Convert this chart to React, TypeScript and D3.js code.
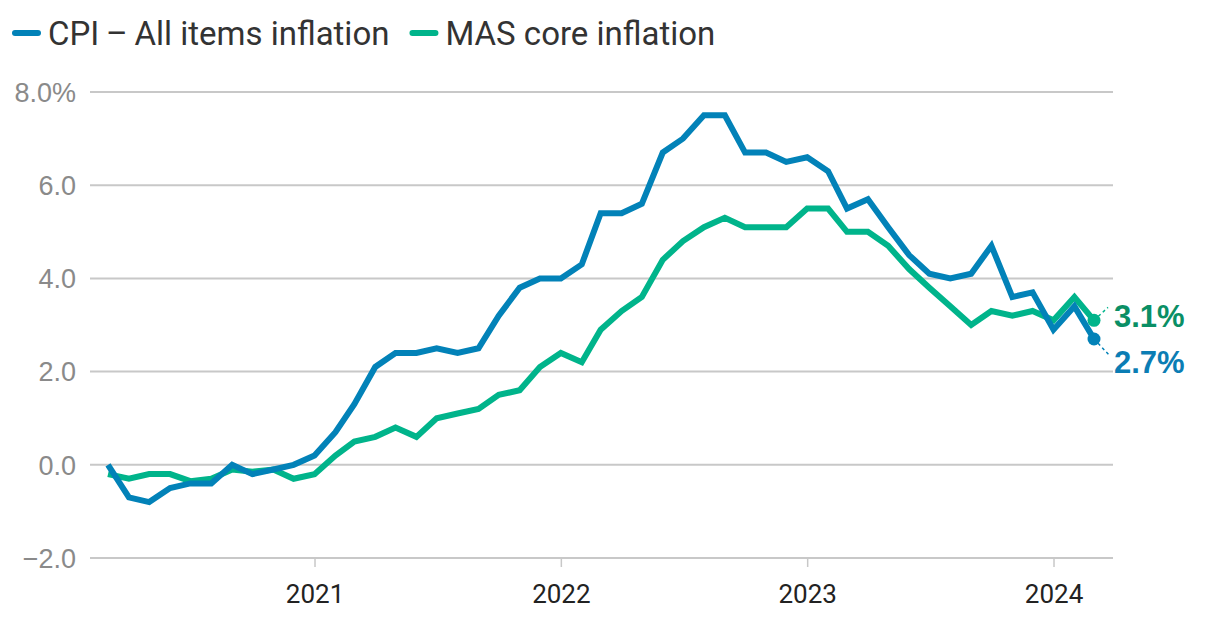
import { useRef, useEffect } from 'react';
import * as d3 from 'd3';

// Monthly y/y inflation, Mar 2020 .. Mar 2024
const firstMonth = new Date(Date.UTC(2020, 2, 1));
const cpiAll = [
  0.0, -0.7, -0.8, -0.5, -0.4, -0.4, 0.0, -0.2, -0.1, 0.0,
  0.2, 0.7, 1.3, 2.1, 2.4, 2.4, 2.5, 2.4, 2.5, 3.2, 3.8, 4.0,
  4.0, 4.3, 5.4, 5.4, 5.6, 6.7, 7.0, 7.5, 7.5, 6.7, 6.7, 6.5,
  6.6, 6.3, 5.5, 5.7, 5.1, 4.5, 4.1, 4.0, 4.1, 4.7, 3.6, 3.7,
  2.9, 3.4, 2.7,
];
const masCore = [
  -0.2, -0.3, -0.2, -0.2, -0.35, -0.3, -0.1, -0.15, -0.1, -0.3,
  -0.2, 0.2, 0.5, 0.6, 0.8, 0.6, 1.0, 1.1, 1.2, 1.5, 1.6, 2.1,
  2.4, 2.2, 2.9, 3.3, 3.6, 4.4, 4.8, 5.1, 5.3, 5.1, 5.1, 5.1,
  5.5, 5.5, 5.0, 5.0, 4.7, 4.2, 3.8, 3.4, 3.0, 3.3, 3.2, 3.3,
  3.1, 3.6, 3.1,
];
const yTicks = [-2, 0, 2, 4, 6, 8];
const xTickYears = [2021, 2022, 2023, 2024];
const seriesNames = ['CPI\u2009\u2013\u2009All items inflation', 'MAS core inflation'];
const seriesColors = ['#0282b8', '#00b48b'];
const endLabelColors = ['#0b7db4', '#0a8f65'];

const W = 1220;
const H = 622;

const App = () => {
  const svgRef = useRef<SVGSVGElement>(null);

  useEffect(() => {
    const svg = d3.select(svgRef.current);
    svg.selectAll('*').remove();

    const dates = cpiAll.map((_, i) => d3.utcMonth.offset(firstMonth, i));
    const x = d3.scaleUtc().domain([dates[0], dates[dates.length - 1]]).range([108, 1094]);
    const y = d3.scaleLinear().domain([-2, 8]).range([558, 92]);
    const gridX0 = 90;
    const gridX1 = 1113;

    // gridlines
    svg.append('g')
      .selectAll('line')
      .data(yTicks)
      .join('line')
      .attr('x1', gridX0)
      .attr('x2', gridX1)
      .attr('y1', (d) => y(d))
      .attr('y2', (d) => y(d))
      .attr('stroke', '#c8c8c8')
      .attr('stroke-width', 2);

    // y labels
    svg.append('g')
      .selectAll('text')
      .data(yTicks)
      .join('text')
      .attr('x', 76)
      .attr('y', (d) => y(d))
      .attr('dy', '0.36em')
      .attr('text-anchor', 'end')
      .attr('font-family', '"Liberation Sans", Arial, sans-serif')
      .attr('font-size', 27)
      .attr('fill', '#8a8a8a')
      .text((d) => (d === 8 ? '8.0%' : d < 0 ? `\u2212${Math.abs(d).toFixed(1)}` : d.toFixed(1)));

    // x axis ticks + labels
    const xAxis = d3.axisBottom(x)
      .tickValues(xTickYears.map((yr) => new Date(Date.UTC(yr, 0, 1))))
      .tickFormat((d) => d3.utcFormat('%Y')(d as Date))
      .tickSize(9)
      .tickPadding(18);
    const gx = svg.append('g').attr('transform', `translate(0,${y(-2)})`).call(xAxis);
    gx.select('.domain').remove();
    gx.selectAll('.tick line').attr('stroke', '#c8c8c8').attr('stroke-width', 1.5);
    gx.selectAll('.tick text')
      .attr('font-family', 'Roboto, sans-serif')
      .attr('font-size', 26)
      .attr('fill', '#222');

    // lines
    const series = [cpiAll, masCore];
    const line = d3.line<number>()
      .x((_, i) => x(dates[i]))
      .y((d) => y(d))
      .curve(d3.curveLinear);

    [1, 0].forEach((k) => {
      svg.append('path')
        .datum(series[k])
        .attr('fill', 'none')
        .attr('stroke', seriesColors[k])
        .attr('stroke-width', 6)
        .attr('stroke-linejoin', 'miter')
        .attr('d', line);
    });

    // end markers, leader lines, labels
    const last = dates.length - 1;
    const ends = [
      { k: 1, v: masCore[last], dx: 14, dy: -13, ly: 316 },
      { k: 0, v: cpiAll[last], dx: 16, dy: 17, ly: 362 },
    ];
    ends.forEach((e) => {
      const cx = x(dates[last]);
      const cy = y(e.v);
      svg.append('line')
        .attr('x1', cx)
        .attr('y1', cy)
        .attr('x2', cx + e.dx)
        .attr('y2', cy + e.dy)
        .attr('stroke', seriesColors[e.k])
        .attr('stroke-width', 1.5)
        .attr('stroke-dasharray', '3,3');
      svg.append('circle')
        .attr('cx', cx)
        .attr('cy', cy)
        .attr('r', 6.5)
        .attr('fill', seriesColors[e.k]);
      svg.append('text')
        .attr('x', 1114)
        .attr('y', e.ly)
        .attr('dy', '0.36em')
        .attr('font-family', '"Liberation Sans", Arial, sans-serif')
        .attr('font-weight', 'bold')
        .attr('font-size', 31)
        .attr('fill', endLabelColors[e.k])
        .text(`${e.v.toFixed(1)}%`);
    });

    // legend
    let lx = 12;
    seriesNames.forEach((name, k) => {
      svg.append('line')
        .attr('x1', lx + 3)
        .attr('x2', lx + 26)
        .attr('y1', 33)
        .attr('y2', 33)
        .attr('stroke', seriesColors[k])
        .attr('stroke-width', 6)
        .attr('stroke-linecap', 'round');
      const t = svg.append('text')
        .attr('x', lx + 36)
        .attr('y', 33)
        .attr('dy', '0.36em')
        .attr('font-family', 'Roboto, sans-serif')
        .attr('font-size', 33)
        .attr('fill', '#333')
        .text(name);
      const w = (t.node() as SVGTextElement).getComputedTextLength();
      lx += 36 + w + 20;
    });
  }, []);

  return (
    <svg
      ref={svgRef}
      width={W}
      height={H}
      style={{ position: 'absolute', left: 0, top: 0, background: '#fff' }}
    />
  );
};

export default App;
